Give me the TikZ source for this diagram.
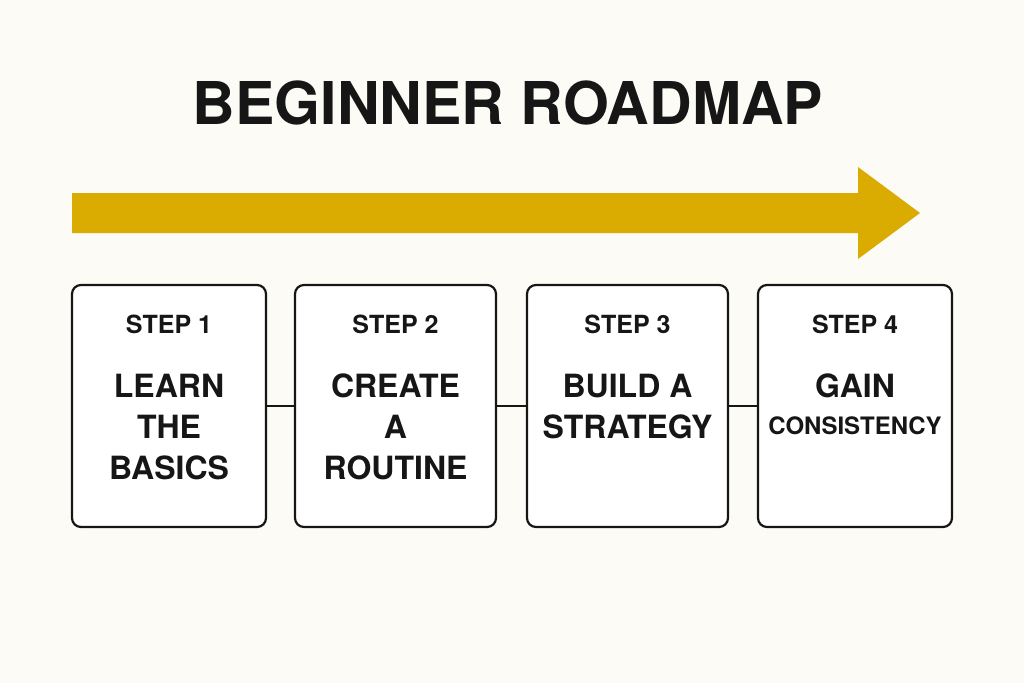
\documentclass[tikz,border=0pt]{standalone}
\usepackage{fontspec}
\setmainfont{TeX Gyre Heros}
\definecolor{bgc}{RGB}{252,251,245}
\definecolor{gold}{RGB}{218,171,0}
\definecolor{ink}{RGB}{22,22,22}
\begin{document}
\begin{tikzpicture}[x=1pt,y=-1pt,
  stepbox/.style={draw=ink, line width=2.2pt, fill=white, rounded corners=9pt, minimum height=242pt, inner sep=0pt},
  steplabel/.style={font=\fontsize{25}{25}\selectfont\bfseries, text=ink, inner sep=0pt, anchor=north},
  maintext/.style={font=\fontsize{32}{41}\selectfont\bfseries, text=ink, inner sep=0pt, anchor=north, align=center},
  link/.style={draw=ink, line width=2pt}]
\fill[bgc] (0,0) rectangle (1024,683);
\useasboundingbox (0,0) rectangle (1024,683);
% title
\node[font=\fontsize{59}{59}\selectfont\bfseries, text=ink, inner sep=0pt] (title) at (508,103) {BEGINNER ROADMAP};
% arrow
\fill[gold] (72,193) -- (858,193) -- (858,167) -- (920,213) -- (858,259) -- (858,233) -- (72,233) -- cycle;
% boxes
\node[stepbox, minimum width=194pt] (b1) at (169,406) {};
\node[stepbox, minimum width=201pt] (b2) at (395.5,406) {};
\node[stepbox, minimum width=201pt] (b3) at (627.5,406) {};
\node[stepbox, minimum width=194pt] (b4) at (855,406) {};
% connectors
\draw[link] (b1.east) -- (b2.west);
\draw[link] (b2.east) -- (b3.west);
\draw[link] (b3.east) -- (b4.west);
% labels
\node[steplabel] (s1) at (169,315) {STEP 1};
\node[steplabel] (s2) at (395.5,315) {STEP 2};
\node[steplabel] (s3) at (627.5,315) {STEP 3};
\node[steplabel] (s4) at (855,315) {STEP 4};
\node[maintext] (t1) at (169,374) {LEARN\\THE\\BASICS};
\node[maintext] (t2) at (395.5,374) {CREATE\\A\\ROUTINE};
\node[maintext] (t3) at (627.5,374) {BUILD A\\STRATEGY};
\node[maintext] (t4) at (855,374) {GAIN\\[-4pt]{\fontsize{24}{24}\selectfont CONSISTENCY}};
\end{tikzpicture}
\end{document}
